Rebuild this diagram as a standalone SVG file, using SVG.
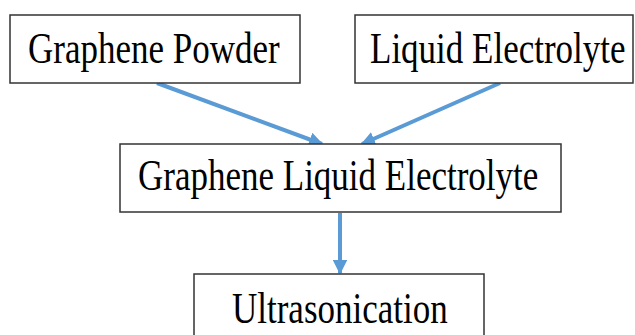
<svg xmlns="http://www.w3.org/2000/svg" width="635" height="335" viewBox="0 0 635 335">
<defs>
<style>
.box{fill:#fff;stroke:#333;stroke-width:1.5}
.lbl{font-family:"Liberation Serif","Times New Roman",serif;font-size:35px;fill:#000}
.conn{stroke:#5B9BD5;stroke-width:4;fill:none;marker-end:url(#ah)}
</style>
<marker id="ah" viewBox="0 0 10 10" refX="9" refY="5" markerWidth="3.6" markerHeight="3.6" orient="auto" markerUnits="strokeWidth">
<path d="M0,0 L10,5 L0,10 z" fill="#5B9BD5"/>
</marker>
</defs>
<rect width="635" height="335" fill="#fff"/>
<g id="connectors">
<line class="conn" x1="157" y1="83" x2="322" y2="144"/>
<line class="conn" x1="500" y1="83" x2="362" y2="144"/>
<line class="conn" x1="340" y1="213" x2="340" y2="273"/>
</g>
<g id="node-graphene-powder">
<rect class="box" x="10" y="15" width="290" height="68"/>
<text class="lbl" transform="translate(28,63) scale(1,1.25)">Graphene Powder</text>
</g>
<g id="node-liquid-electrolyte">
<rect class="box" x="355" y="15" width="278" height="68"/>
<text class="lbl" transform="translate(370,63) scale(1,1.25)">Liquid Electrolyte</text>
</g>
<g id="node-graphene-liquid-electrolyte">
<rect class="box" x="120" y="144" width="441" height="68"/>
<text class="lbl" transform="translate(138,190) scale(1,1.25)">Graphene Liquid Electrolyte</text>
</g>
<g id="node-ultrasonication">
<rect class="box" x="194" y="274" width="290" height="80"/>
<text class="lbl" transform="translate(232,323) scale(1,1.25)">Ultrasonication</text>
</g>
</svg>
